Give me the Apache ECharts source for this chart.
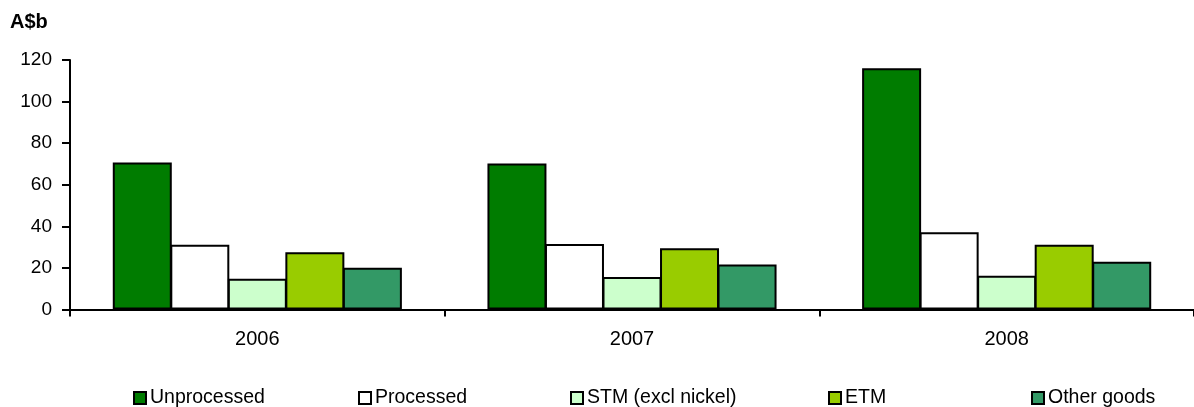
<!DOCTYPE html>
<html>
<head>
<meta charset="utf-8">
<script src="https://cdn.jsdelivr.net/npm/echarts@6/dist/echarts.min.js"></script>
<style>html,body{margin:0;padding:0;background:#fff;}#c{width:1194px;height:407px;}</style>
</head>
<body>
<div id="c"></div>
<script>
var categories = ['2006', '2007', '2008'];
var seriesNames = ['Unprocessed', 'Processed', 'STM (excl nickel)', 'ETM', 'Other goods'];
var unprocessed = [70.7, 70.2, 116.0];
var processed = [31.2, 31.5, 37.1];
var stm = [14.8, 15.6, 16.2];
var etm = [27.5, 29.5, 31.2];
var otherGoods = [20.1, 21.7, 23.0];
var yTicks = [0, 20, 40, 60, 80, 100, 120];
var colors = ['#007C00', '#FFFFFF', '#CCFFCC', '#99CC00', '#339966'];
var legendLefts = [133, 358, 570, 828, 1031];

var values = [unprocessed, processed, stm, etm, otherGoods];
var font = 'Liberation Sans, Arial, sans-serif';

var chart = echarts.init(document.getElementById('c'), null, {renderer: 'canvas'});
var legends = seriesNames.map(function (n, i) {
  return {
    data: [n], left: legendLefts[i], top: 388, itemWidth: 12, itemHeight: 12, itemGap: 0,
    icon: 'rect', padding: 0,
    textStyle: {fontFamily: font, fontSize: 19.5, color: '#000', padding: [0, 0, 0, -1]},
    itemStyle: {borderColor: '#000', borderWidth: 2}
  };
});
chart.setOption({
  animation: false,
  backgroundColor: '#fff',
  title: {text: 'A$b', left: 10, top: 12, padding: 0,
    textStyle: {fontFamily: font, fontSize: 20, fontWeight: 'bold', color: '#000'}},
  legend: legends,
  grid: {left: 70, top: 60, width: 1126, bottom: 97.5, containLabel: false},
  xAxis: {
    type: 'category', data: categories,
    axisLine: {lineStyle: {color: '#000', width: 2}},
    axisTick: {show: true, length: 7, lineStyle: {color: '#000', width: 2}, alignWithLabel: false},
    axisLabel: {fontFamily: font, fontSize: 20, color: '#000', margin: 20}
  },
  yAxis: {
    type: 'value', min: yTicks[0], max: yTicks[yTicks.length - 1], interval: 20,
    axisLine: {show: true, lineStyle: {color: '#000', width: 2}},
    axisTick: {show: true, length: 8, lineStyle: {color: '#000', width: 2}},
    splitLine: {show: false},
    axisLabel: {fontFamily: font, fontSize: 19, color: '#000', margin: 18}
  },
  series: seriesNames.map(function (n, i) {
    return {
      name: n, type: 'bar', data: values[i],
      barWidth: 59, barGap: '-2.5%',
      itemStyle: {color: colors[i], borderColor: '#000', borderWidth: 2}
    };
  })
});
</script>
</body>
</html>
